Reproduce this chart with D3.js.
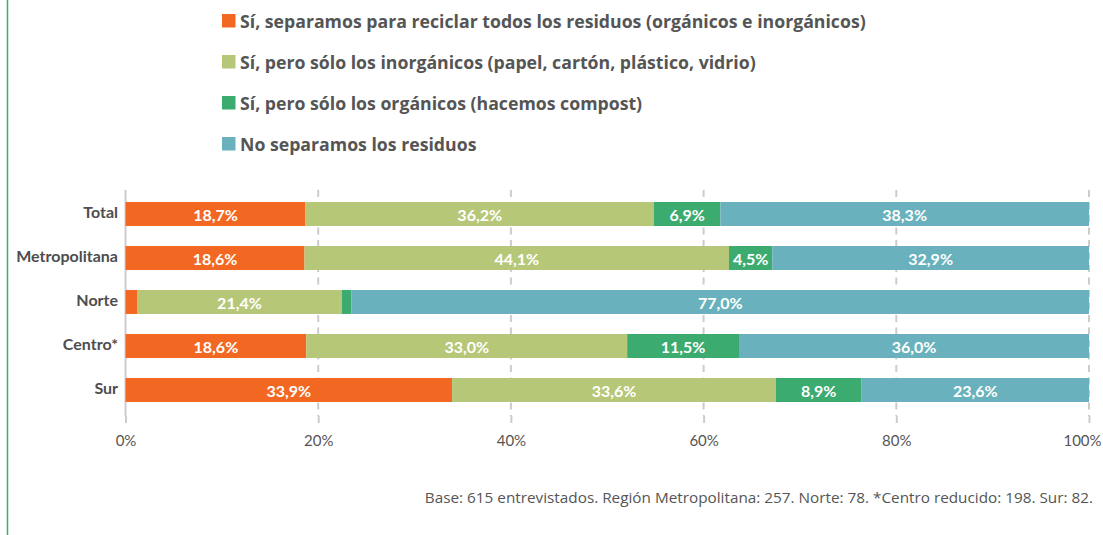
<!DOCTYPE html>
<html>
<head>
<meta charset="utf-8">
<script src="https://cdn.jsdelivr.net/npm/d3@7"></script>
<style>
  html, body { margin: 0; padding: 0; background: #ffffff; }
  svg { display: block; font-family: Lato, "Open Sans", sans-serif; }
</style>
</head>
<body>
<svg id="chart" width="1103" height="535"></svg>
<script>
// ---- Data ----
const categories = ["Total", "Metropolitana", "Norte", "Centro*", "Sur"];
const seriesNames = [
  "Sí, separamos para reciclar todos los residuos (orgánicos e inorgánicos)",
  "Sí, pero sólo los inorgánicos (papel, cartón, plástico, vidrio)",
  "Sí, pero sólo los orgánicos (hacemos compost)",
  "No separamos los residuos"
];
const seriesKeys = ["todos", "inorganicos", "organicos", "no"];
const todos       = [18.7, 18.6, 1.2, 18.6, 33.9];
const inorganicos = [36.2, 44.1, 21.4, 33.0, 33.6];
const organicos   = [6.9, 4.5, 1.0, 11.5, 8.9];
const noSeparan   = [38.3, 32.9, 77.0, 36.0, 23.6];
const colors = ["#f26822", "#b6c778", "#3bab6f", "#69b2bd"];
const tickValues = [0, 0.2, 0.4, 0.6, 0.8, 1];
const footnote = "Base: 615 entrevistados. Región Metropolitana: 257. Norte: 78. *Centro reducido: 198. Sur: 82.";

const rows = categories.map((c, i) => ({
  cat: c, todos: todos[i], inorganicos: inorganicos[i], organicos: organicos[i], no: noSeparan[i]
}));

const svg = d3.select("#chart");

// left decorative line
svg.append("line")
  .attr("x1", 7.5).attr("x2", 7.5).attr("y1", 0).attr("y2", 535)
  .attr("stroke", "#3dab6e").attr("stroke-width", 1.5);

// ---- Scales ----
const x = d3.scaleLinear().domain([0, 1]).range([125.5, 1089]);
const y = d3.scaleBand().domain(categories).range([192, 412])
  .paddingInner(20 / 44).paddingOuter(10 / 44);
const color = d3.scaleOrdinal().domain(seriesKeys).range(colors);

// ---- Gridlines ----
const grid = svg.append("g");
grid.selectAll("line").data(tickValues).join("line")
  .attr("x1", d => x(d)).attr("x2", d => x(d))
  .attr("y1", 190).attr("y2", 416)
  .attr("stroke", "#cccccc").attr("stroke-width", 2)
  .attr("stroke-dasharray", d => d === 0 ? null : "7,5.5");

// ---- Axis ----
const axis = svg.append("g").attr("transform", "translate(0,416)")
  .call(d3.axisBottom(x).tickValues(tickValues).tickFormat(d3.format(".0%"))
    .tickSize(7).tickPadding(12));
axis.select(".domain").remove();
axis.selectAll(".tick line").attr("stroke", "#cccccc").attr("stroke-width", 2);
axis.selectAll(".tick text").attr("fill", "#555555")
  .attr("dx", d => d === 1 ? -7 : 0)
  .style("font-family", "Lato, sans-serif").style("font-size", "15px");

// ---- Stacked bars ----
const stack = d3.stack().keys(seriesKeys).offset(d3.stackOffsetExpand);
const stacked = stack(rows);

const layers = svg.append("g").selectAll("g").data(stacked).join("g")
  .attr("fill", d => color(d.key));
layers.selectAll("rect").data(d => d.map(s => ({ s, key: d.key }))).join("rect")
  .attr("x", d => x(d.s[0]))
  .attr("y", d => y(d.s.data.cat))
  .attr("width", d => x(d.s[1]) - x(d.s[0]))
  .attr("height", y.bandwidth());

// value labels
const labels = svg.append("g");
stacked.forEach(layer => {
  layer.forEach(s => {
    const w = x(s[1]) - x(s[0]);
    if (w < 30) return;
    labels.append("text")
      .attr("x", (x(s[0]) + x(s[1])) / 2)
      .attr("y", y(s.data.cat) + y.bandwidth() / 2 + 7)
      .attr("text-anchor", "middle")
      .attr("fill", "#ffffff")
      .style("font-weight", "700").style("font-size", "16px")
      .text(d3.format(".1f")(s.data[layer.key]).replace(".", ",") + "%");
  });
});

// category labels
svg.append("g").selectAll("text").data(categories).join("text")
  .attr("x", 118)
  .attr("y", d => y(d) + y.bandwidth() / 2 + 4)
  .attr("text-anchor", "end")
  .attr("fill", "#4d4d4d")
  .style("font-weight", "700").style("font-size", "16px")
  .text(d => d);

// ---- Legend ----
const legend = svg.append("g").selectAll("g").data(seriesNames).join("g")
  .attr("transform", (d, i) => `translate(222,${14 + i * 41})`);
legend.append("rect").attr("width", 13.5).attr("height", 13.5)
  .attr("fill", (d, i) => colors[i]);
legend.append("text").attr("x", 18).attr("y", 13.5)
  .attr("fill", "#555555")
  .style("font-family", "'Open Sans', sans-serif")
  .style("font-weight", "700").style("font-size", "17.7px")
  .text(d => d);

// ---- Footnote ----
svg.append("text")
  .attr("x", 1093).attr("y", 503)
  .attr("text-anchor", "end")
  .attr("fill", "#555555")
  .style("font-family", "'Open Sans', sans-serif")
  .style("font-size", "15.3px")
  .text(footnote);
</script>
</body>
</html>
